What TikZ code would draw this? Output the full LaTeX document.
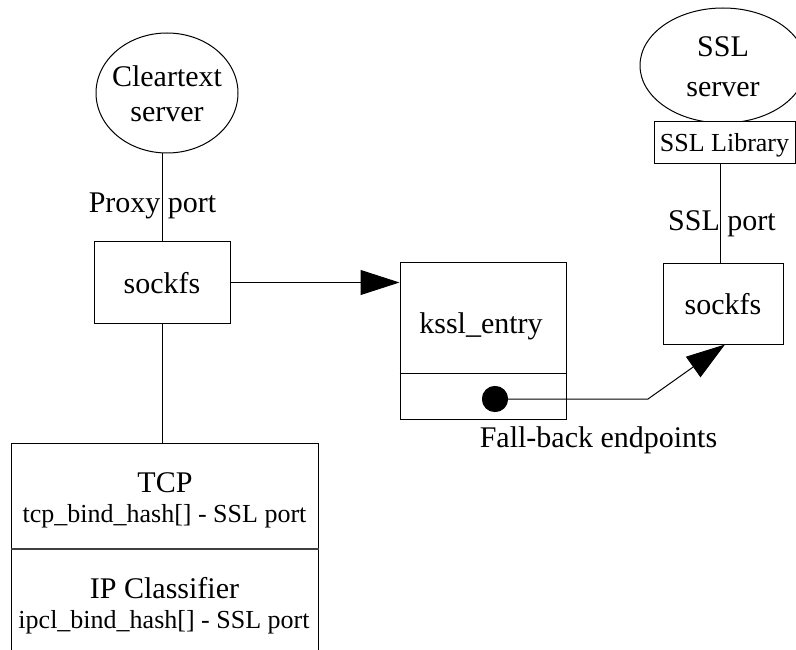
\documentclass[tikz,border=0pt]{standalone}
\usepackage{fontspec}
\setmainfont{Liberation Serif}
\usetikzlibrary{shapes.geometric,arrows.meta}
\begin{document}
\begin{tikzpicture}[x=1pt,y=-1pt,
  big/.style={font=\fontsize{30}{34}\selectfont, inner sep=0pt},
  small/.style={font=\fontsize{26}{30}\selectfont, inner sep=0pt},
  box/.style={draw, line width=1pt, rectangle, inner sep=0pt},
  oval/.style={draw, line width=1pt, ellipse, inner sep=0pt},
  conn/.style={line width=1pt},
  tip/.style={-{Triangle[length=39pt,width=25pt]}},
]
\clip (0,0) rectangle (796,650);
% Cleartext server
\node[oval,minimum width=142pt,minimum height=120pt] (clear) at (167,93) {};
\node[big,anchor=base] (clearA) at (167,87) {Cleartext};
\node[big,anchor=base] (clearB) at (167,122) {server};
% left sockfs
\node[box,minimum width=136pt,minimum height=81pt] (sockL) at (162,282.5) {};
\node[big,anchor=base] (sockLt) at (162,293) {sockfs};
\draw[conn] (sockL.north |- clear.south) -- (sockL.north);
\node[big,anchor=base] (proxy) at (152.5,212) {Proxy port};
% kssl_entry
\node[box,minimum width=166pt,minimum height=157pt] (kssl) at (483,340.5) {};
\node[big,anchor=base] (kssltxt) at (481,333) {kssl\_entry};
\coordinate (kdiv) at (483,373);
\draw[line width=1pt] (kssl.west |- kdiv) -- (kssl.east |- kdiv);
\draw[conn,tip] (sockL.east) -- (sockL.east -| kssl.west);
% SSL server
\node[oval,minimum width=166pt,minimum height=115pt] (ssl) at (723,65.5) {};
\node[big,anchor=base] (sslA) at (723,57) {SSL};
\node[big,anchor=base] (sslB) at (723,97) {server};
\node[box,fill=white,minimum width=141pt,minimum height=42pt] (lib) at (724.5,143) {};
\node[small,anchor=base] (libt) at (724.5,152) {SSL Library};
% right sockfs
\node[box,minimum width=120pt,minimum height=81pt] (sockR) at (723,303.5) {};
\node[big,anchor=base] (sockRt) at (723,314) {sockfs};
\coordinate (sslx) at ([xshift=-3pt]sockR.north);
\draw[conn] (sslx |- lib.south) -- (sslx);
\node[big,anchor=base] (sslport) at (722,230) {SSL port};
% fall-back connector
\coordinate (bend) at (648,399);
\node[circle,fill=black,minimum size=26pt,inner sep=0pt] (dot) at (495,399) {};
\draw[conn,tip] (dot.center) -- (bend) -- ([xshift=2pt]sockR.south);
\node[circle,fill=black,minimum size=26pt,inner sep=0pt] at (dot.center) {};
\node[big,anchor=base] (fb) at (598.5,447) {Fall-back endpoints};
% TCP / IP classifier
\node[box,minimum width=307pt,minimum height=230pt] (tcp) at (164.5,558) {};
\draw[conn] (sockL.south) -- (sockL.south |- tcp.north);
\coordinate (tdiv) at (164.5,549);
\draw[line width=1.6pt, black!75] (tcp.west |- tdiv) -- (tcp.east |- tdiv);
\node[big,anchor=base] (tcpt) at (165,492) {TCP};
\node[small,anchor=base] (tcph) at (164.5,522) {tcp\_bind\_hash[] - SSL port};
\node[big,anchor=base] (ipt) at (164.5,598) {IP Classifier};
\node[small,anchor=base] (iph) at (164,628) {ipcl\_bind\_hash[] - SSL port};
\end{tikzpicture}
\end{document}
